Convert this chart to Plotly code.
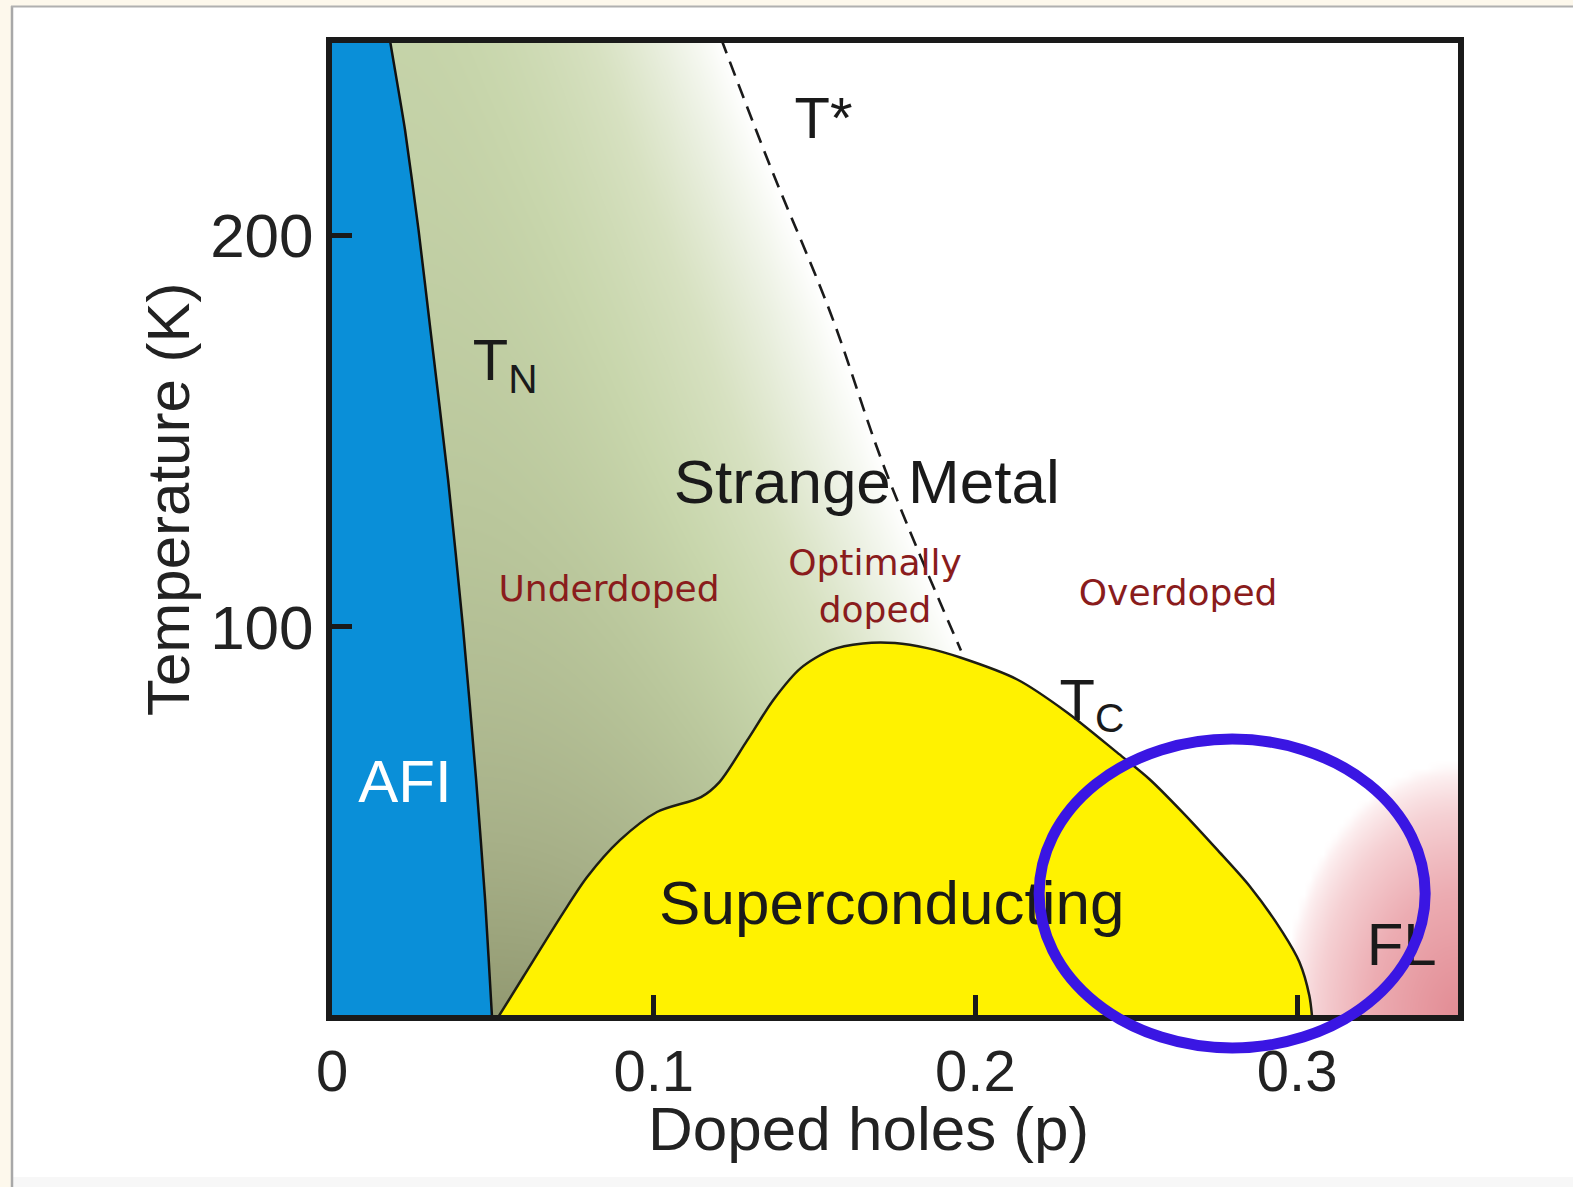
import numpy as np
import plotly.graph_objects as go

# ---- phase boundaries: hole doping p vs temperature (K) ----
tn_p = [0.0141, 0.0180, 0.0227, 0.0269, 0.0306, 0.0361, 0.0407, 0.0448, 0.0476, 0.0497, 0.0512]
tn_T = [270, 249.8, 226.8, 201.3, 175.8, 137.5, 100, 61, 30.3, 1, -20]

dome_p = [0.0513, 0.0594, 0.0718, 0.0793, 0.0895, 0.1010, 0.1147, 0.1205, 0.1290,
          0.1373, 0.1457, 0.1550, 0.1650, 0.1750, 0.1850, 0.1953, 0.2130,
          0.2285, 0.2440, 0.2542, 0.2644, 0.2750, 0.2852, 0.2954, 0.3007, 0.3038, 0.3047]
dome_T = [0, 10.7, 27.0, 36.2, 45.6, 52.8, 56.6, 60.5, 71.0,
          81.5, 89.5, 94.1, 95.8, 95.9, 94.6, 92.2, 86.6,
          78.2, 68.0, 61.1, 52.7, 43.3, 33.9, 22.2, 14.5, 5.9, 0]

tstar_p = [0.121, 0.136, 0.155, 0.172, 0.1955]
tstar_T = [250, 218, 180, 140, 94]

# ---- axes ----
x_range = [0, 0.35]
y_range = [1, 249]
x_ticks = [0, 0.1, 0.2, 0.3]
x_ticklabels = ["0", "0.1", "0.2", "0.3"]
y_ticks = [100, 200]
y_ticklabels = ["100", "200"]

# ---- highlighted overdoped region (ellipse centre and half-widths) ----
ring_p, ring_T = 0.2798, 32.0
ring_dp, ring_dT = 0.0600, 39.4

# ---- smooth background shading: pseudogap (green) and Fermi liquid (pink) ----
pg = np.linspace(0, 0.35, 176)
Tg = np.linspace(0, 250, 126)
P, TT = np.meshgrid(pg, Tg)
p_left = np.interp(TT, tn_T[::-1], tn_p[::-1])
ts_p, ts_T = np.array(tstar_p[::-1]), np.array(tstar_T[::-1])
slope = (ts_p[1] - ts_p[0]) / (ts_T[1] - ts_T[0])
p_right = np.where(TT < ts_T[0], ts_p[0] + slope * (TT - ts_T[0]), np.interp(TT, ts_T, ts_p))
u = np.clip((P - p_left) / (p_right - p_left), 0, 1)
depth = 0.42 + 0.58 * np.exp(-TT / 110.0)
green = depth * (1 - u ** 2)

# pink glow spreading from the high-doping, low-temperature corner
fl_p, fl_T = 0.35, 1.0
fl_dp, fl_dT = 0.0545, 64.0
r = np.sqrt(((P - fl_p) / fl_dp) ** 2 + ((TT - fl_T) / fl_dT) ** 2)
pink = np.clip(1 - r, 0, 1) ** 0.75
shade = green - pink

shade_scale = [
    [0.0, "rgb(226,140,148)"],
    [0.2, "rgb(236,172,178)"],
    [0.35, "rgb(245,208,211)"],
    [0.45, "rgb(252,238,239)"],
    [0.5, "rgb(255,255,255)"],
    [0.575, "rgb(235,240,225)"],
    [0.65, "rgb(215,225,193)"],
    [0.725, "rgb(200,214,172)"],
    [0.8, "rgb(185,198,155)"],
    [0.9, "rgb(167,176,136)"],
    [1.0, "rgb(145,152,112)"],
]

fig = go.Figure()

fig.add_trace(go.Heatmap(x=pg, y=Tg, z=shade, colorscale=shade_scale, zmin=-1, zmax=1,
                         zsmooth="best", showscale=False, hoverinfo="skip"))

# antiferromagnetic insulator
fig.add_trace(go.Scatter(x=[-0.03, -0.03] + tn_p, y=[-20, 270] + tn_T, mode="lines",
                         fill="toself", fillcolor="#0a8fd8", line=dict(width=0, shape="spline", smoothing=0.6),
                         hoverinfo="skip", showlegend=False))
fig.add_trace(go.Scatter(x=tn_p, y=tn_T, mode="lines",
                         line=dict(color="#111111", width=2.5, shape="spline", smoothing=0.6),
                         hoverinfo="skip", showlegend=False))

# superconducting dome
fig.add_trace(go.Scatter(x=dome_p, y=dome_T, mode="lines", fill="toself", fillcolor="#fff200",
                         line=dict(color="#1e1e14", width=2.5, shape="spline", smoothing=0.8),
                         hoverinfo="skip", showlegend=False))

# pseudogap crossover T*
fig.add_trace(go.Scatter(x=tstar_p, y=tstar_T, mode="lines",
                         line=dict(color="#1a1a1a", width=2.6, dash="15px,9px", shape="spline"),
                         hoverinfo="skip", showlegend=False))

arial = "Liberation Sans, Arial, sans-serif"
verdana = "DejaVu Sans, Verdana, sans-serif"


def label(p, T, text, size, color="#1a1a1a", family=arial):
    fig.add_trace(go.Scatter(x=[p], y=[T], mode="text", text=[text], textposition="middle center",
                             textfont=dict(size=size, color=color, family=family),
                             hoverinfo="skip", showlegend=False))


label(0.1528, 228.4, "T*", 58)
label(0.0538, 166.6, "T<sub>N</sub>", 58)
label(0.1662, 135.5, "Strange Metal", 62)
label(0.0861, 108.8, "Underdoped", 36, "#8a1c1c", verdana)
label(0.1688, 109.6, "Optimally<br>doped", 36, "#8a1c1c", verdana)
label(0.2630, 108.0, "Overdoped", 36, "#8a1c1c", verdana)
label(0.2362, 80.0, "T<sub>C</sub>", 58)
label(0.0227, 59.2, "AFI", 60, "white")
label(0.1740, 28.2, "Superconducting", 62)
label(0.3325, 17.5, "FL", 60)

# plot-area geometry in pixels
L, R, T_, B = 332, 115, 43, 172
W, H = 1573, 1187
pw, ph = W - L - R, H - T_ - B


def px_x(v):
    return (v - L) / pw


def px_y(v):
    return (H - B - v) / ph


def dx(p):
    return (p - x_range[0]) / (x_range[1] - x_range[0])


def dy(t):
    return (t - y_range[0]) / (y_range[1] - y_range[0])


shapes = [
    # page panel
    dict(type="rect", xref="paper", yref="paper", x0=px_x(12), x1=px_x(1600), y0=px_y(7), y1=px_y(1177),
         fillcolor="white", line=dict(width=0), layer="below"),
    dict(type="rect", xref="paper", yref="paper", x0=px_x(12), x1=px_x(1600), y0=px_y(1177), y1=px_y(1200),
         fillcolor="#f7f7f7", line=dict(width=0), layer="below"),
    dict(type="line", xref="paper", yref="paper", x0=px_x(12), x1=px_x(12), y0=px_y(6), y1=px_y(1200),
         line=dict(color="#a8a8a8", width=2.5), layer="below"),
    dict(type="line", xref="paper", yref="paper", x0=px_x(11), x1=px_x(1600), y0=px_y(6.5), y1=px_y(6.5),
         line=dict(color="#b0b0b0", width=2), layer="below"),
    # highlight ring
    dict(type="circle", xref="paper", yref="paper",
         x0=dx(ring_p - ring_dp), x1=dx(ring_p + ring_dp),
         y0=dy(ring_T - ring_dT), y1=dy(ring_T + ring_dT),
         line=dict(color="#3a16e3", width=11), layer="above"),
]

annotations = [
    dict(text="Doped holes (p)", xref="paper", yref="paper", x=px_x(868), y=px_y(1128),
         xanchor="center", yanchor="middle",
         showarrow=False, font=dict(size=62, color="#222222", family=arial)),
    dict(text="Temperature (K)", xref="paper", yref="paper", x=px_x(168), y=px_y(500),
         xanchor="center", yanchor="middle",
         showarrow=False, textangle=-90, font=dict(size=60, color="#222222", family=arial)),
]

axis_common = dict(showline=True, linewidth=6, linecolor="#1a1a1a", mirror=True,
                   ticks="inside", ticklen=20, tickwidth=5, tickcolor="#1a1a1a",
                   showgrid=False, zeroline=False)

fig.update_layout(
    width=W, height=H,
    margin=dict(l=L, r=R, t=T_, b=B),
    paper_bgcolor="#fdf8ec",
    plot_bgcolor="white",
    showlegend=False,
    shapes=shapes,
    annotations=annotations,
    xaxis=dict(range=x_range, tickvals=x_ticks, ticktext=x_ticklabels,
               tickfont=dict(size=58, color="#222222", family=arial), **axis_common),
    yaxis=dict(range=y_range, tickvals=y_ticks, ticktext=y_ticklabels,
               tickfont=dict(size=62, color="#222222", family=arial), **axis_common),
)

fig.write_html("out.html")
